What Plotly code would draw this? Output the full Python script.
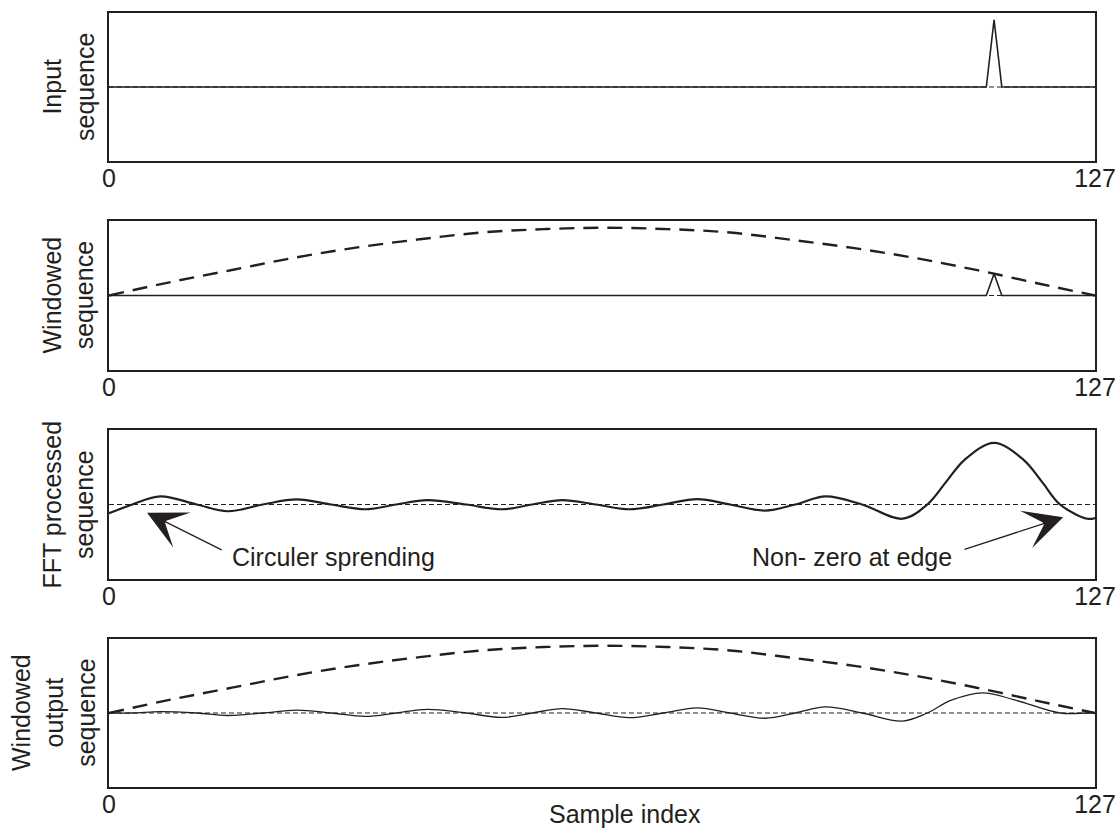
import plotly.graph_objects as go

# ---------------- data ----------------
tick_vals = [0, 127]
tick_text = ["0", "127"]

input_idx = [0, 113, 114, 115, 127]
input_val = [0, 0, 1.0, 0, 0]

windowed_idx = [0, 113, 114, 115, 127]
windowed_val = [0, 0, 0.32, 0, 0]

window_idx = [0, 8, 16, 24, 32, 40, 48, 56, 64, 72, 80, 88, 96, 104, 112, 120, 127]
window_val = [0.0, 0.20, 0.38, 0.56, 0.71, 0.83, 0.93, 0.98, 1.0, 0.98, 0.93,
              0.82, 0.70, 0.55, 0.37, 0.17, 0.0]

fft_idx = [0, 3, 6.6, 11.3, 15.3, 19.8, 24.2, 28.6, 33, 37, 41, 46, 50.6, 54.5,
           58.4, 62.7, 67, 71.4, 75.8, 80, 84.5, 88.4, 92.3, 97, 102.2, 105.4,
           107.8, 110.2, 114, 117.8, 120.2, 122.5, 126, 127]
fft_val = [-0.13, 0, 0.12, 0, -0.10, 0, 0.075, 0, -0.07, 0, 0.065, 0, -0.07, 0,
           0.065, 0, -0.07, 0, 0.08, 0, -0.09, 0, 0.12, 0, -0.21, 0,
           0.33, 0.66, 0.91, 0.66, 0.33, 0, -0.21, -0.20]

out_idx = [0, 3, 6.6, 11.3, 15.3, 19.8, 24.2, 28.6, 33, 37, 41, 46, 50.6, 54.5,
           58.4, 62.7, 67, 71.4, 75.8, 80, 84.5, 88.4, 92.3, 97, 102.2, 105.4,
           108.5, 112.5, 116.5, 122.5, 126, 127]
out_val = [0, 0, 0.02, 0, -0.037, 0, 0.042, 0, -0.05, 0, 0.055, 0, -0.066, 0,
           0.065, 0, -0.07, 0, 0.077, 0, -0.078, 0, 0.09, 0, -0.12, 0,
           0.19, 0.30, 0.20, 0, 0, 0]

panel_titles = ["Input<br>sequence", "Windowed<br>sequence",
                "FFT processed<br>sequence", "Windowed<br>output<br>sequence"]
x_title = "Sample index"

# ---------------- layout ----------------
INK = "#231f20"
FONT = "Liberation Sans, Arial, sans-serif"
FS = 25
W, H = 1120, 830
ML, MR, MT, MB = 109, 25, 13, 43
plot_h = H - MT - MB
plot_w = W - ML - MR
panel_px = [(13, 161), (221, 370), (430, 579), (639, 787)]
domains = [[(H - MB - b) / plot_h, (H - MB - t) / plot_h] for t, b in panel_px]

fig = go.Figure()

def add_line(x, y, k, width, dash="solid", shape="linear"):
    fig.add_trace(go.Scatter(
        x=x, y=y, mode="lines", xaxis="x" if k == 0 else f"x{k+1}",
        yaxis="y" if k == 0 else f"y{k+1}",
        line=dict(color=INK, width=width, dash=dash, shape=shape, smoothing=1.0),
        hoverinfo="skip", showlegend=False))

add_line(input_idx, input_val, 0, 1.6)
add_line(windowed_idx, windowed_val, 1, 1.6)
add_line(window_idx, window_val, 1, 2.4, dash="15px,9px", shape="spline")
add_line(fft_idx, fft_val, 2, 2.2, shape="spline")
add_line(out_idx, out_val, 3, 1.3, shape="spline")
add_line(window_idx, window_val, 3, 2.4, dash="15px,9px", shape="spline")

layout = dict(
    template="none",
    width=W, height=H, margin=dict(l=ML, r=MR, t=MT, b=MB, autoexpand=False),
    paper_bgcolor="white", plot_bgcolor="white",
    font=dict(family=FONT, color=INK, size=FS),
    showlegend=False,
)
for k in range(4):
    xa = "xaxis" if k == 0 else f"xaxis{k+1}"
    ya = "yaxis" if k == 0 else f"yaxis{k+1}"
    yname = "y" if k == 0 else f"y{k+1}"
    xname = "x" if k == 0 else f"x{k+1}"
    layout[xa] = dict(
        domain=[0, 1], anchor=yname, range=[0, 127], automargin=False,
        showline=True, mirror=True, linecolor=INK, linewidth=2,
        showgrid=False, zeroline=False, ticks="", ticklabelstandoff=-6,
        tickmode="array", tickvals=tick_vals, ticktext=tick_text,
        tickfont=dict(size=FS, color=INK, family=FONT),
    )
    layout[ya] = dict(
        domain=domains[k], anchor=xname, range=[-1.1, 1.1], automargin=False,
        showline=True, mirror=True, linecolor=INK, linewidth=2,
        showgrid=False, zeroline=False, showticklabels=False, ticks="",
    )
fig.update_layout(**layout)

# baselines (dashed reference lines)
for k in range(4):
    xr = "x" if k == 0 else f"x{k+1}"
    yr = "y" if k == 0 else f"y{k+1}"
    fig.add_shape(type="line", xref=f"{xr} domain", yref=yr, x0=0, x1=1, y0=0, y1=0,
                  line=dict(color=INK, width=1.2, dash="5px,3px"), layer="below")

# y titles
centers_px = [68, 68, 68, 53]
for k in range(4):
    t, b = panel_px[k]
    fig.add_annotation(
        text=panel_titles[k], xref="paper", yref="paper",
        x=(centers_px[k] - ML) / plot_w, y=(H - MB - (t + b) / 2) / plot_h,
        xanchor="center", yanchor="middle", textangle=-90, showarrow=False,
        font=dict(size=FS, color=INK, family=FONT))

# x title
fig.add_annotation(text=x_title, xref="paper", yref="paper",
                   x=(625 - ML) / plot_w, y=(H - MB - 814) / plot_h,
                   xanchor="center", yanchor="middle", showarrow=False,
                   font=dict(size=FS, color=INK, family=FONT))

# arrows in panel 3
fig.add_annotation(x=4.9, y=-0.12, ax=14.7, ay=-0.68, xref="x3", yref="y3",
                   axref="x3", ayref="y3", text="", showarrow=True,
                   arrowhead=3, arrowsize=5, arrowwidth=1.3, arrowcolor=INK)
fig.add_annotation(x=122.9, y=-0.19, ax=110.0, ay=-0.67, xref="x3", yref="y3",
                   axref="x3", ayref="y3", text="", showarrow=True,
                   arrowhead=3, arrowsize=5, arrowwidth=1.3, arrowcolor=INK)
fig.add_annotation(x=15.6, y=-0.78, xref="x3", yref="y3", text="Circuler sprending",
                   showarrow=False, xanchor="left", yanchor="middle",
                   font=dict(size=FS, color=INK, family=FONT))
fig.add_annotation(x=82.6, y=-0.78, xref="x3", yref="y3", text="Non- zero at edge",
                   showarrow=False, xanchor="left", yanchor="middle",
                   font=dict(size=FS, color=INK, family=FONT))

fig.write_html("out.html")
